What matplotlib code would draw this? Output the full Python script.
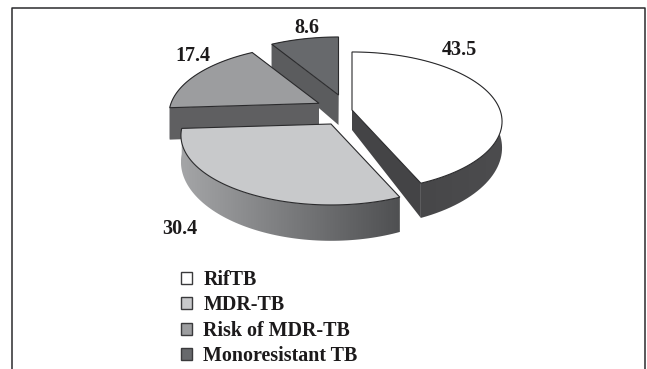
import numpy as np
import matplotlib
matplotlib.use('Agg')
import matplotlib.pyplot as plt
from matplotlib.patches import Patch, Polygon
from matplotlib.colors import LinearSegmentedColormap

categories = ['RifTB', 'MDR-TB', 'Risk of MDR-TB', 'Monoresistant TB']
values = [43.5, 30.4, 17.4, 8.6]
value_labels = ['43.5', '30.4', '17.4', '8.6']

top_colors = ['#ffffff', '#c8c9cb', '#9c9d9f', '#67696c']
side_colors = ['#4a4a4c', '#8a8b8d', '#5f5f61', '#5b5c5e']
INK = '#1c1a1b'

# pie seen in perspective, all in pixels of the 647x369 picture
R, A, K, DEPTH = 148.0, 67.6, 0.165, 25.0
apexes = [(352, 110), (331, 124), (319, 103.3), (338.5, 95)]
depth_scale = [1.0, 1.0, 1.25, 1.2]
label_pos = [(459, 50), (180, 229), (193, 56), (307, 28)]


def project(apex, theta, depth=0.0):
    u, v = np.sin(theta), np.cos(theta)
    s = 1.0 / (1.0 + K * v)
    return apex[0] + R * u * s, apex[1] - A * v * s + depth * s ** 2


def arc(apex, t0, t1, depth=0.0):
    th = np.linspace(t0, t1, 80)
    x, y = project(apex, th, depth)
    return np.column_stack([x, y])


def gradient_fill(ax, pts, c0, c1, zorder):
    # polygon filled with a left-to-right grey gradient
    poly = Polygon(pts, closed=True, facecolor='none', edgecolor='none', zorder=zorder)
    ax.add_patch(poly)
    cmap = LinearSegmentedColormap.from_list('side', [c0, c1])
    x0, x1 = pts[:, 0].min(), pts[:, 0].max()
    y0, y1 = pts[:, 1].min(), pts[:, 1].max()
    im = ax.imshow(np.linspace(0, 1, 200)[None, :], extent=(x0, x1, y1, y0), cmap=cmap,
                   aspect='auto', zorder=zorder, interpolation='bilinear')
    im.set_clip_path(poly)


fig = plt.figure(figsize=(6.47, 3.69), dpi=100)
ax = fig.add_axes([0, 0, 1, 1])

fracs = np.array(values) / np.sum(values)
edges = np.concatenate([[0], np.cumsum(fracs)]) * 2 * np.pi
edges[-1] = 2 * np.pi

# back to front
for z, i in enumerate([3, 2, 1, 0]):
    t0, t1 = edges[i], edges[i + 1]
    apex = apexes[i]
    d = DEPTH * depth_scale[i]
    zb = 2 + z * 3
    top_arc = arc(apex, t0, t1)
    bottom_arc = arc(apex, t0, t1, d)
    side = np.vstack([top_arc, bottom_arc[::-1]])

    if i == 1:
        gradient_fill(ax, side, '#a4a5a7', '#4f5052', zb)
    elif i == 0:
        gradient_fill(ax, side, '#434345', '#4c4c4e', zb)
        tip = np.array(project(apex, t1))
        tip_low = np.array(project(apex, t1, d))
        face = np.array([apex, tip, tip_low, (apex[0], apex[1] + 20)])
        ax.add_patch(Polygon(face, closed=True, facecolor='#444446', edgecolor='none', zorder=zb))
    else:
        ax.add_patch(Polygon(side, closed=True, facecolor=side_colors[i], edgecolor='none', zorder=zb))
        # cut faces towards the viewer
        for t in (t0, t1):
            p = np.array(project(apex, t))
            q = np.array(project(apex, t, d))
            face = np.array([apex, p, q, (apex[0], apex[1] + d)])
            ax.add_patch(Polygon(face, closed=True, facecolor=side_colors[i], edgecolor='none', zorder=zb))

    top = np.vstack([[apex], top_arc])
    ax.add_patch(Polygon(top, closed=True, facecolor=top_colors[i], edgecolor='#2a2a2c',
                         linewidth=0.8, zorder=zb + 1))

for txt, (x, y) in zip(value_labels, label_pos):
    ax.text(x, y, txt, ha='center', va='center', fontsize=14.5, fontweight='bold',
            family='Liberation Serif', color=INK, zorder=30)

# legend
handles = [Patch(facecolor=c, edgecolor='#3a3a3c', linewidth=1.0) for c in top_colors]
leg = ax.legend(handles, categories, loc='upper left', bbox_to_anchor=(181 / 647, 1 - 270 / 369),
                frameon=False, prop={'family': 'Liberation Serif', 'weight': 'bold', 'size': 14.4},
                labelcolor=INK, labelspacing=0.27, handlelength=0.56, handleheight=0.56,
                handletextpad=0.55, borderpad=0, borderaxespad=0)

# page frame, open at the bottom
ax.plot([12, 12, 645, 645], [369, 8, 8, 369], color='#2b2b2d', lw=1.1, zorder=1)

ax.set_xlim(0, 647)
ax.set_ylim(369, 0)
ax.axis('off')
fig.savefig('out.png', dpi=100)
